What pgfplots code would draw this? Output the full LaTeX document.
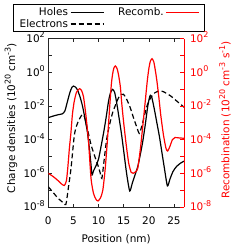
\documentclass[border=0pt]{standalone}
\usepackage{fontspec}
\setmainfont{DejaVu Sans}
\usepackage{pgfplots}
\pgfplotsset{compat=1.18}
\newcommand\sps[1]{\raisebox{0.42em}{\fontsize{8}{8}\selectfont #1}}
\newcommand\fs{\fontsize{10.5}{12.6}\selectfont}

\pgfplotstableread{
x y
0 2.0e-3
1 2.51e-3
2 3.02e-3
2.8 3.39e-3
3.3 5.01e-3
3.8 1.78e-2
4.3 6.31e-2
4.7 0.126
5.0 0.151
5.4 0.132
5.8 8.91e-2
6.3 3.55e-2
6.8 1.0e-2
7.3 1.78e-3
7.8 2.51e-4
8.2 2.51e-5
8.5 3.16e-6
8.7 7.94e-7
9.0 1.41e-6
9.5 2.82e-6
10.0 7.08e-6
10.5 3.98e-5
11.0 2.51e-4
11.5 2.0e-3
12.0 2.0e-2
12.4 6.31e-2
12.8 9.55e-2
13.2 6.31e-2
13.6 1.58e-2
14.1 1.78e-3
14.6 1.78e-4
15.1 1.26e-5
15.6 8.91e-7
16.2 8.91e-8
16.7 2.51e-7
17.3 8.91e-7
17.8 2.51e-6
18.3 1.26e-5
18.8 7.94e-5
19.3 7.94e-4
19.8 1.0e-2
20.1 2.82e-2
20.3 4.27e-2
20.6 3.16e-2
21.1 6.31e-3
21.6 1.0e-3
22.1 1.58e-4
22.6 1.78e-5
23.1 2.0e-6
23.7 1.78e-7
24.2 4.47e-7
24.8 1.26e-6
25.5 2.51e-6
26.3 3.98e-6
27 5.25e-6
}\holes

\pgfplotstableread{
x y
0 1.58e-7
1 7.08e-8
2 3.16e-8
3 1.78e-8
3.5 1.41e-8
4.0 1.41e-7
4.5 1.74e-6
5.16 1.62e-4
5.6 6.31e-4
6.15 1.58e-3
6.8 3.16e-3
7.2 2.24e-3
7.8 3.98e-4
8.5 5.01e-5
9.2 1.12e-5
9.9 2.82e-6
10.3 1.12e-6
10.65 5.01e-7
11.0 3.16e-6
11.6 1.0e-4
12.2 7.94e-4
12.8 3.98e-3
13.3 1.0e-2
14.0 3.16e-2
14.5 4.68e-2
14.95 4.9e-2
15.5 2.82e-2
16.3 7.94e-3
17.0 1.78e-3
17.6 5.62e-4
18.1 2.34e-4
18.6 6.31e-4
19.1 2.51e-3
19.7 1.12e-2
20.4 3.16e-2
21.2 6.03e-2
22.0 7.59e-2
22.4 7.59e-2
23.0 6.76e-2
24.4 3.80e-2
25.5 2.0e-2
26.7 1.0e-2
27 8.32e-3
}\electrons

\pgfplotstableread{
x y
0 1.0e-6
1 6.31e-7
2 3.55e-7
2.7 2.24e-7
3.2 1.91e-7
3.6 3.55e-7
3.9 2.51e-6
4.2 3.16e-5
4.5 2.51e-4
4.8 3.16e-3
5.15 1.78e-2
5.6 6.31e-2
6.2 0.105
6.6 8.32e-2
7.0 3.55e-2
7.5 2.51e-3
8.0 7.94e-5
8.5 5.01e-7
9.0 6.31e-8
9.5 2.82e-8
9.9 2.29e-8
10.4 3.55e-8
10.85 1.0e-7
11.3 1.58e-6
11.7 5.01e-5
12.0 1.0e-3
12.3 2.0e-2
12.55 0.2
12.8 0.794
13.05 1.78
13.35 2.34
13.7 1.58
14.0 0.631
14.35 0.126
14.6 1.58e-2
15.0 1.0e-3
15.5 5.01e-5
16.0 3.98e-6
16.5 1.12e-6
16.9 1.0e-6
17.4 1.26e-6
17.8 2.0e-6
18.3 2.51e-5
18.8 6.31e-4
19.3 2.0e-2
19.7 0.316
20.0 1.58
20.3 4.47
20.65 6.31
21.0 3.98
21.3 1.26
21.6 0.316
22.0 3.16e-2
22.4 2.51e-3
22.9 2.0e-4
23.4 3.16e-5
23.75 2.09e-5
24.2 3.98e-5
24.7 1.0e-4
25.2 1.32e-4
26.0 1.26e-4
27 1.20e-4
}\recomb

\begin{document}
\begin{tikzpicture}
\useasboundingbox (-48.3bp,-41bp) rectangle (200.7bp,207bp);
\begin{axis}[
  scale only axis, width=135.7bp, height=168.5bp,
  xmin=0, xmax=27, ymode=log, ymin=1e-8, ymax=1e2,
  tick align=inside,
  major tick length=3.5bp, minor tick length=3.5bp,
  xminorticks=false,
  ytick={1e-8,1e-6,1e-4,1e-2,1,1e2},
  minor ytick={1e-7,1e-5,1e-3,1e-1,1e1},
  log number format basis/.code 2 args={#1\sps{\pgfmathprintnumber[assume math mode=true]{#2}}},
  tick label style={font=\fs},
  axis y line*=left,
  axis line style={line width=0.8bp, black!85},
  tick style={black!85, line width=0.6bp},
  xtick={0,5,10,15,20,25}, xticklabels={0,5,10,15,20,25},
  x tick label style={yshift=-6bp},
  y tick label style={anchor=base east, yshift=-3.8bp},
  xlabel={Position (nm)},
  xlabel style={font=\fs, at={(axis description cs:0.5,-0.19)}, anchor=center},
  ylabel={Charge densities (10\sps{20} cm\sps{-3})},
  ylabel style={font=\fs, at={(axis description cs:-0.275,0.528)}, rotate=0, anchor=center},
  legend columns=2,
  legend plot pos=right,
  legend cell align=right,
  legend image code/.code={\draw[#1] (0bp,0bp) -- (33bp,0bp);},
  legend style={at={(axis description cs:-0.258,1.2047)}, anchor=north west,
    draw=black, line width=0.8bp, font=\fs, inner xsep=4bp, inner ysep=1bp,
    row sep=-1.5bp,
    /tikz/every odd column/.append style={column sep=0bp},
    /tikz/every even column/.append style={column sep=12bp}},
]
\addplot[black, line width=1.2bp, smooth, tension=0.4] table[x=x,y=y] {\holes};
\addlegendentry{Holes}
\addlegendimage{red, line width=1.2bp}
\addlegendentry{Recomb.}
\addplot[black, line width=1.2bp, dash pattern=on 5bp off 3bp, smooth, tension=0.4] table[x=x,y=y] {\electrons};
\addlegendentry{Electrons}
\end{axis}
\begin{axis}[
  scale only axis, width=135.7bp, height=168.5bp,
  xmin=0, xmax=27, ymin=1e-8, ymax=1e2,
  ymode=log,
  tick align=inside,
  major tick length=3.5bp, minor tick length=3.5bp,
  ytick={1e-8,1e-6,1e-4,1e-2,1,1e2},
  minor ytick={1e-7,1e-5,1e-3,1e-1,1e1},
  yticklabels={10\sps{-8},10\sps{-6},10\sps{-4},10\sps{-2},10\sps{0},10\sps{2}},
  tick label style={font=\fs},
  axis x line=none,
  axis y line*=right,
  y axis line style={line width=0.8bp, red},
  tick style={red, line width=0.6bp},
  y tick label style={red, anchor=base west, yshift=-3.8bp, xshift=2.5bp},
  ylabel={Recombination (10\sps{20} cm\sps{-3} s\sps{-1})},
  ylabel style={font=\fs, red, at={(axis description cs:1.302,0.516)}, rotate=0, anchor=center},
]
\addplot[red, line width=1.2bp, smooth, tension=0.4] table[x=x,y=y] {\recomb};
\end{axis}
\end{tikzpicture}
\end{document}
